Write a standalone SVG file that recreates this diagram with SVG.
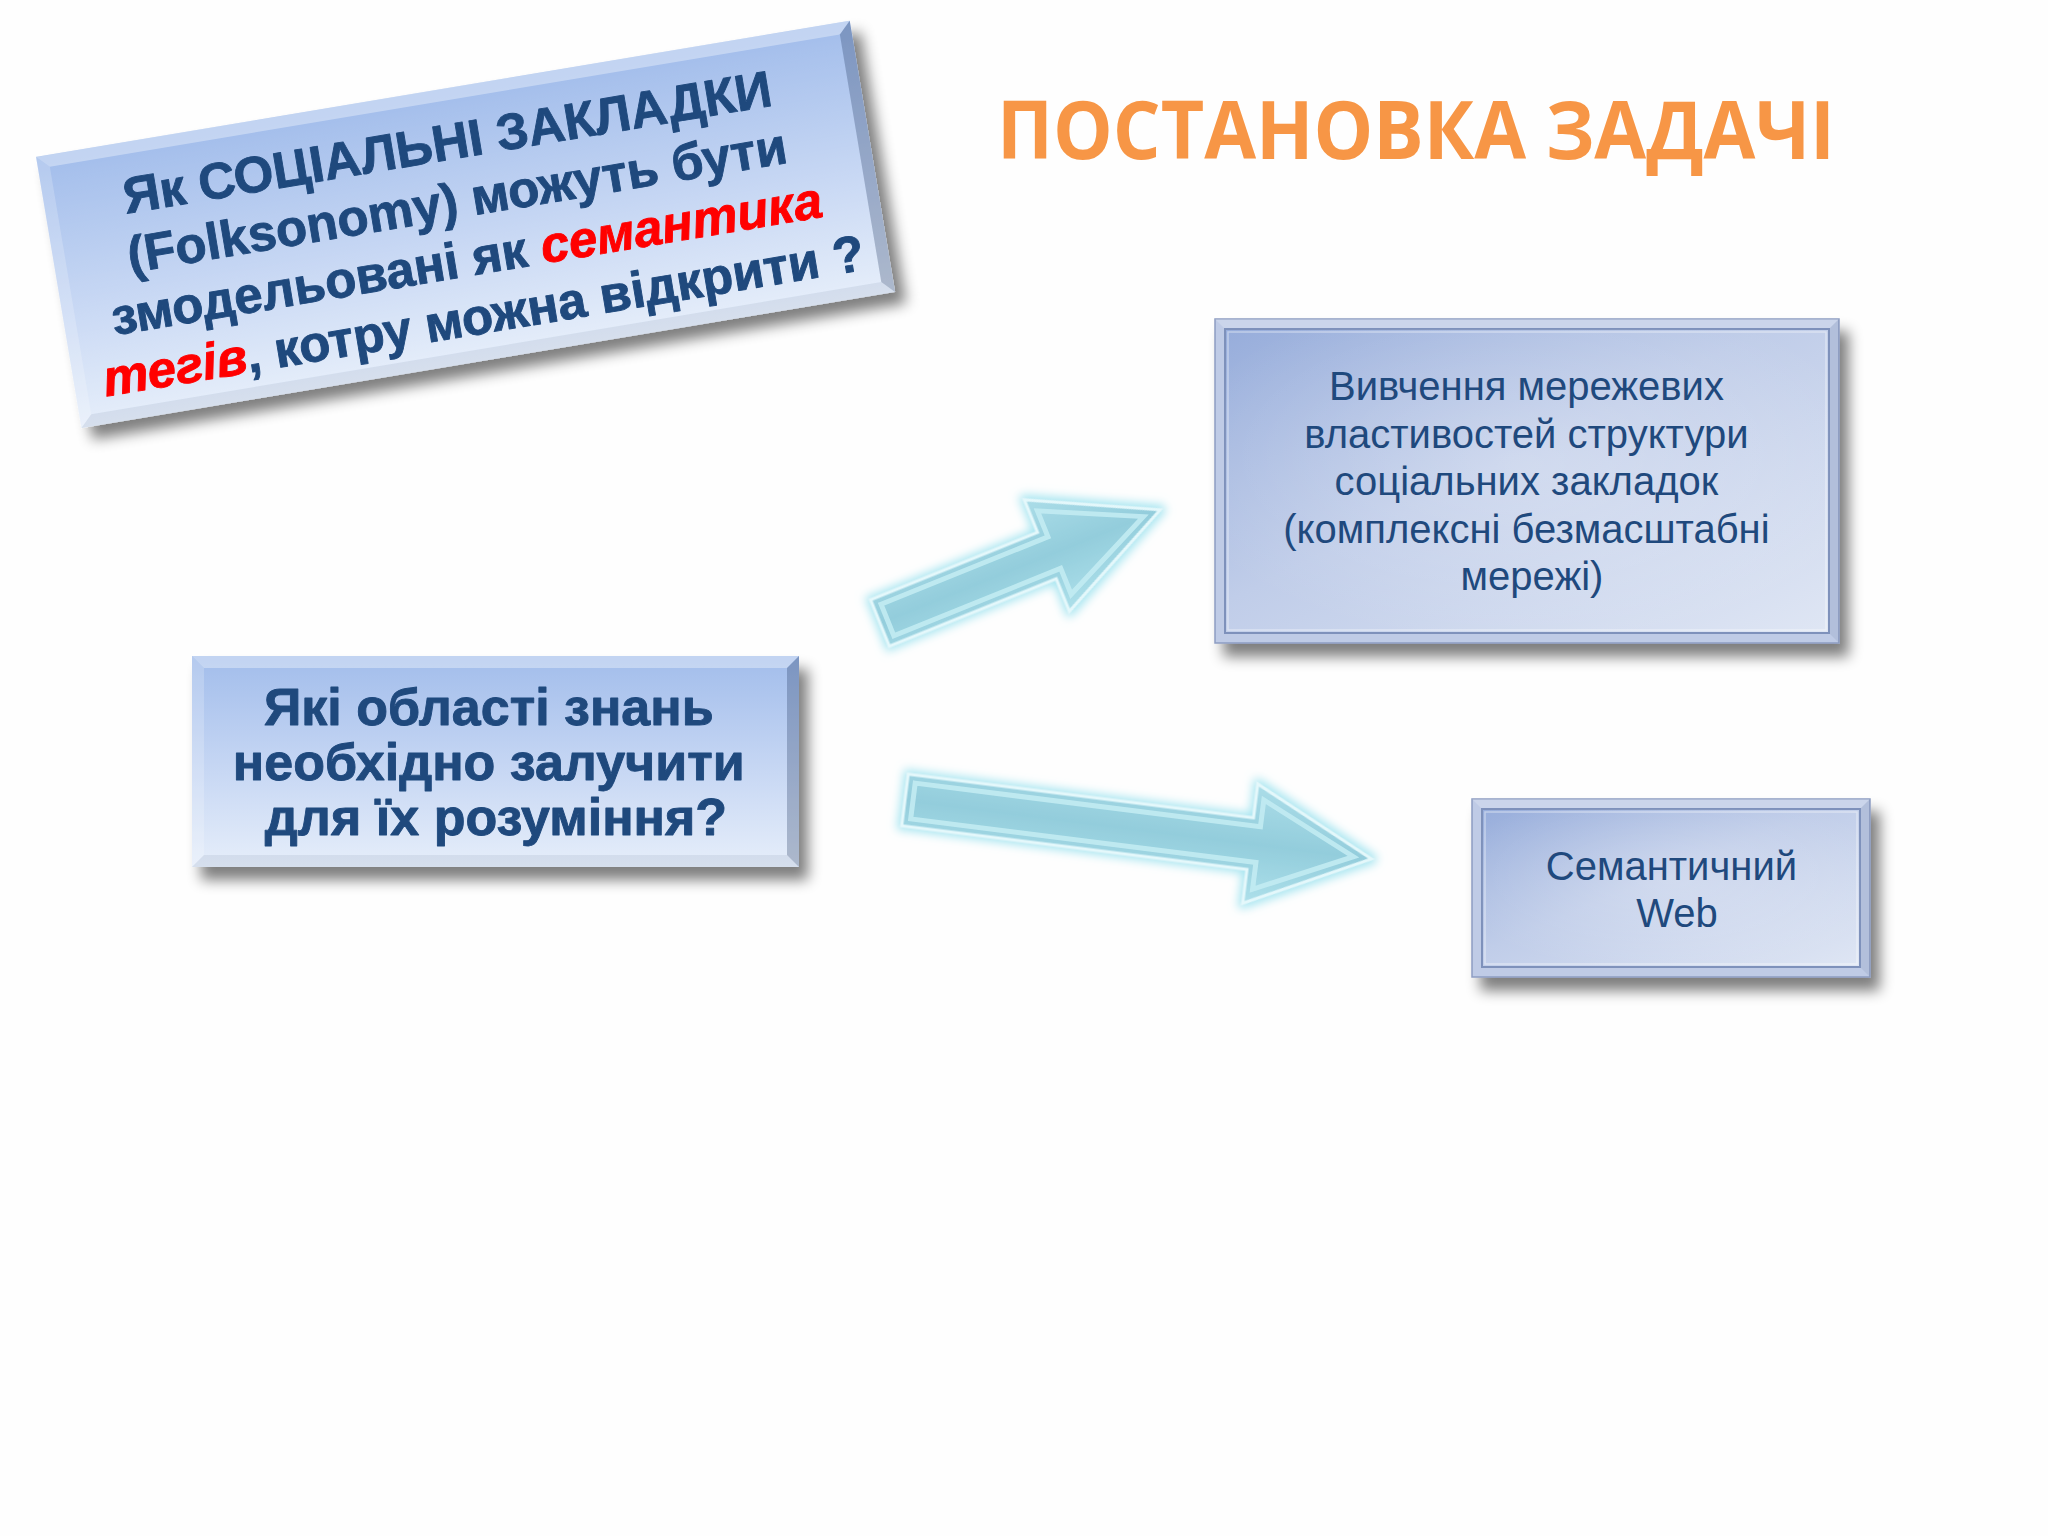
<svg xmlns="http://www.w3.org/2000/svg" width="2048" height="1536" viewBox="0 0 2048 1536">
<defs>
  <linearGradient id="gBevel" x1="0" y1="0" x2="0" y2="1">
    <stop offset="0" stop-color="#a2bdeb"/>
    <stop offset="0.5" stop-color="#c4d5f3"/>
    <stop offset="1" stop-color="#e6eefa"/>
  </linearGradient>
  <linearGradient id="gFrame" x1="0" y1="0" x2="1" y2="1">
    <stop offset="0" stop-color="#97addb"/>
    <stop offset="0.45" stop-color="#c0cde9"/>
    <stop offset="1" stop-color="#dfe6f4"/>
  </linearGradient>
  <radialGradient id="gFrameHi" cx="0.5" cy="0.45" r="0.6">
    <stop offset="0" stop-color="#ffffff" stop-opacity="0.25"/>
    <stop offset="1" stop-color="#ffffff" stop-opacity="0"/>
  </radialGradient>
  <linearGradient id="gArrow" x1="0" y1="0" x2="0" y2="1">
    <stop offset="0" stop-color="#abdde8"/>
    <stop offset="0.5" stop-color="#93cddc"/>
    <stop offset="1" stop-color="#ade0ea"/>
  </linearGradient>
  <filter id="shadow" x="-10%" y="-15%" width="125%" height="145%">
    <feGaussianBlur in="SourceAlpha" stdDeviation="7"/>
    <feOffset dx="9" dy="13" result="o"/>
    <feComponentTransfer><feFuncA type="linear" slope="0.5"/></feComponentTransfer>
    <feMerge><feMergeNode/><feMergeNode in="SourceGraphic"/></feMerge>
  </filter>
  <filter id="glow" x="-20%" y="-40%" width="140%" height="180%">
    <feMorphology in="SourceAlpha" operator="dilate" radius="3" result="d"/>
    <feGaussianBlur in="d" stdDeviation="5" result="b"/>
    <feFlood flood-color="#9fe3ef" flood-opacity="0.9"/>
    <feComposite in2="b" operator="in"/>
    <feMerge><feMergeNode/><feMergeNode in="SourceGraphic"/></feMerge>
  </filter>
  <filter id="soft" x="-50%" y="-50%" width="200%" height="200%">
    <feGaussianBlur stdDeviation="1.5"/>
  </filter>
  <style>
    .dark { fill: #1f497d; }
    .red { fill: #ff0000; font-style: italic; }
    .bold { font-family: "Liberation Sans", Arial, sans-serif; font-weight: bold; stroke-width: 0.9; stroke-linejoin: round; }
    .bold .dark, .bold.dark { stroke: #1f497d; }
    .bold .red { stroke: #ff0000; }
    .reg { font-family: "Liberation Sans", Arial, sans-serif; font-weight: normal; }
    .title { font-family: "Open Sans", "Noto Sans", sans-serif; font-weight: bold; fill: #f79646; }
    .arrow { fill: url(#gArrow); stroke: #e4f8fb; stroke-width: 3; stroke-linejoin: miter; }
    .arrowIn { fill: none; stroke: #c2ebf2; stroke-width: 5; stroke-linejoin: miter; opacity: 0.9; }
    .tail { stroke: #b6eef5; stroke-width: 2.5; fill: none; filter: url(#soft); }
    .bvHi { fill: #ffffff; opacity: 0.35; }
    .bvHi2 { fill: #ffffff; opacity: 0.2; }
    .bvLo { fill: #1a2f55; opacity: 0.28; }
    .bvLo2 { fill: #1a2f55; opacity: 0.08; }
    .frameOuter { fill: #bfcbe6; stroke: #8d9dc2; stroke-width: 1.5; }
    .frameInner { fill: url(#gFrame); stroke: #7e91bb; stroke-width: 2; }
  </style>
</defs>

<rect x="0" y="0" width="2048" height="1536" fill="#fefefe"/>

<g id="title">
  <text class="title" x="997" y="159" font-size="80" textLength="838" lengthAdjust="spacingAndGlyphs">ПОСТАНОВКА ЗАДАЧІ</text>
</g>

<g id="node-question" transform="translate(465,224) rotate(-9.5)">
  <g filter="url(#shadow)">
    <rect x="-412" y="-137" width="825" height="275" fill="url(#gBevel)"/>
  </g>
  <polygon class="bvHi" points="-412,-137 413,-137 401,-125 -400,-125"/>
  <polygon class="bvHi2" points="-412,-137 -400,-125 -400,126 -412,138"/>
  <polygon class="bvLo" points="413,-137 413,138 401,126 401,-125"/>
  <polygon class="bvLo2" points="-412,138 413,138 401,126 -400,126"/>
  <text class="bold" font-size="51" text-anchor="middle">
    <tspan class="dark" x="3" y="-66">Як СОЦІАЛЬНІ ЗАКЛАДКИ</tspan>
    <tspan class="dark" x="3" y="-7">(Folksonomy) можуть бути</tspan>
    <tspan x="3" y="52"><tspan class="dark">змодельовані як  </tspan><tspan class="red">семантика</tspan></tspan>
    <tspan x="3" y="111"><tspan class="red">тегів</tspan><tspan class="dark">, котру можна відкрити ?</tspan></tspan>
  </text>
</g>

<g id="node-areas">
  <g filter="url(#shadow)">
    <rect x="192" y="656" width="607" height="211" fill="url(#gBevel)"/>
  </g>
  <polygon class="bvHi" points="192,656 799,656 787,668 204,668"/>
  <polygon class="bvHi2" points="192,656 204,668 204,855 192,867"/>
  <polygon class="bvLo" points="799,656 799,867 787,855 787,668"/>
  <polygon class="bvLo2" points="192,867 799,867 787,855 204,855"/>
  <text class="bold dark" font-size="52" text-anchor="middle">
    <tspan x="496" y="725">Які області знань</tspan>
    <tspan x="496" y="780">необхідно залучити</tspan>
    <tspan x="496" y="835">для їх розуміння?</tspan>
  </text>
</g>

<g id="node-network">
  <g filter="url(#shadow)">
    <rect class="frameOuter" x="1215" y="319" width="624" height="324"/>
  </g>
  <polygon class="bvHi2" points="1215,319 1839,319 1829,329 1225,329"/>
  <polygon class="bvLo2" points="1839,319 1839,643 1829,633 1829,329"/>
  <rect class="frameInner" x="1225" y="329" width="604" height="304"/>
  <rect x="1225" y="329" width="604" height="304" fill="url(#gFrameHi)"/>
  <rect x="1228" y="332" width="598" height="298" fill="none" stroke="#ffffff" stroke-opacity="0.4" stroke-width="1.5"/>
  <text class="reg dark" font-size="40" text-anchor="middle">
    <tspan x="1532" y="400">Вивчення мережевих</tspan>
    <tspan x="1532" y="448">властивостей структури</tspan>
    <tspan x="1532" y="495">соціальних закладок</tspan>
    <tspan x="1532" y="543">(комплексні безмасштабні</tspan>
    <tspan x="1532" y="590">мережі)</tspan>
  </text>
</g>

<g id="node-semweb">
  <g filter="url(#shadow)">
    <rect class="frameOuter" x="1472" y="799" width="398" height="178"/>
  </g>
  <polygon class="bvHi2" points="1472,799 1870,799 1860,809 1482,809"/>
  <polygon class="bvLo2" points="1870,799 1870,977 1860,967 1860,809"/>
  <rect class="frameInner" x="1482" y="809" width="378" height="158"/>
  <rect x="1482" y="809" width="378" height="158" fill="url(#gFrameHi)"/>
  <rect x="1485" y="812" width="372" height="152" fill="none" stroke="#ffffff" stroke-opacity="0.4" stroke-width="1.5"/>
  <text class="reg dark" font-size="40" text-anchor="middle">
    <tspan x="1677" y="880">Семантичний</tspan>
    <tspan x="1677" y="927">Web</tspan>
  </text>
</g>

<g id="connectors">
  <g id="arrow-to-network" transform="translate(880,623) rotate(-22)">
    <line class="tail" x1="-9" y1="-30" x2="-9" y2="30"/>
    <line class="tail" x1="-16" y1="-28" x2="-16" y2="28"/>
    <line class="tail" x1="-23" y1="-24" x2="-23" y2="24"/>
    <g filter="url(#glow)">
      <path class="arrow" d="M0,-25 L180,-25 L180,-60 L302,0 L180,60 L180,25 L0,25 Z"/>
    </g>
    <path class="arrowIn" d="M8,-17 L188,-17 L188,-45 L284,0 L188,45 L188,17 L8,17 Z"/>
  </g>
  <g id="arrow-to-semweb" transform="translate(905,800) rotate(7.2)">
    <line class="tail" x1="-9" y1="-30" x2="-9" y2="30"/>
    <line class="tail" x1="-16" y1="-28" x2="-16" y2="28"/>
    <line class="tail" x1="-23" y1="-24" x2="-23" y2="24"/>
    <g filter="url(#glow)">
      <path class="arrow" d="M0,-26 L348,-26 L348,-60 L470,0 L348,60 L348,26 L0,26 Z"/>
    </g>
    <path class="arrowIn" d="M8,-18 L356,-18 L356,-45 L452,0 L356,45 L356,18 L8,18 Z"/>
  </g>
</g>
</svg>
